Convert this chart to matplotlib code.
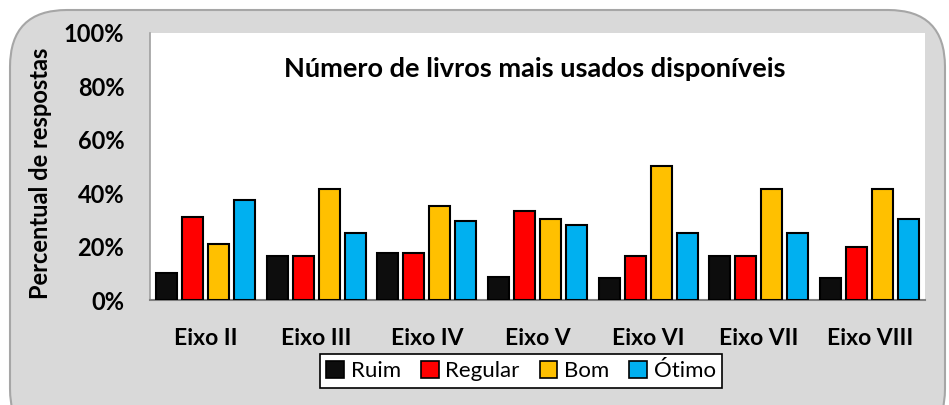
import matplotlib.pyplot as plt
import numpy as np
from matplotlib.patches import FancyBboxPatch, Patch
from matplotlib.ticker import FuncFormatter

eixos = ['Eixo II', 'Eixo III', 'Eixo IV', 'Eixo V', 'Eixo VI', 'Eixo VII', 'Eixo VIII']
ruim = [10.0, 16.6, 17.6, 8.5, 8.3, 16.6, 8.1]
regular = [31.2, 16.6, 17.6, 33.3, 16.6, 16.6, 20.0]
bom = [21.1, 41.6, 35.2, 30.3, 50.2, 41.6, 41.6]
otimo = [37.5, 25.0, 29.5, 28.0, 25.0, 25.0, 30.3]

series = [('Ruim', ruim, '#0d0d0d'),
          ('Regular', regular, '#ff0000'),
          ('Bom', bom, '#ffc000'),
          ('Ótimo', otimo, '#00b0f0')]

plt.rcParams['font.family'] = ['Lato', 'DejaVu Sans']

fig = plt.figure(figsize=(9.49, 4.05), dpi=100)

# grey rounded frame behind the chart
frame = FancyBboxPatch((10 / 949, -0.1), 935 / 949, 1.1 - 10 / 405,
                       boxstyle='round,pad=0,rounding_size=0.06',
                       transform=fig.transFigure, facecolor='#d9d9d9',
                       edgecolor='#a6a6a6', linewidth=1.5, zorder=-5,
                       mutation_aspect=949 / 405)
fig.patches.append(frame)

ax = fig.add_axes([150 / 949, 1 - 300 / 405, 775 / 949, 267 / 405])
ax.set_facecolor('white')

x = np.arange(len(eixos))
slot = 0.235
w = 0.19
for i, (name, vals, col) in enumerate(series):
    ax.bar(x + (i - 1.5) * slot, vals, width=w, color=col, edgecolor='black',
           linewidth=1.5, label=name, zorder=3)

ax.set_xlim(-0.5, len(eixos) - 0.5)
ax.set_ylim(0, 100)
ax.set_yticks(range(0, 101, 20))
ax.yaxis.set_major_formatter(FuncFormatter(lambda v, p: f'{int(v)}%'))
ax.set_xticks(x)
ax.set_xticklabels(eixos)
ax.tick_params(axis='both', length=0)
ax.tick_params(axis='y', pad=18.5, labelsize=17)
ax.tick_params(axis='x', pad=20, labelsize=16.5)
for lab in ax.get_xticklabels() + ax.get_yticklabels():
    lab.set_fontweight('bold')

for s in ['top', 'right']:
    ax.spines[s].set_visible(False)
ax.spines['left'].set_color('#a0a0a0')
ax.spines['bottom'].set_color('#808080')
ax.spines['left'].set_linewidth(1.2)
ax.spines['bottom'].set_linewidth(1.5)

ax.set_ylabel('Percentual de respostas', fontsize=17, fontweight='bold')
ax.yaxis.set_label_coords(-0.126, 0.476)
ax.text(0.497, 0.865, 'Número de livros mais usados disponíveis', transform=ax.transAxes,
        ha='center', va='center', fontsize=19.5, fontweight='bold')

handles = [Patch(facecolor=c, edgecolor='black', linewidth=1.2, label=n) for n, _, c in series]
leg = fig.legend(handles=handles, loc='center', bbox_to_anchor=(521 / 949, 1 - 371 / 405),
                 ncol=4, fontsize=16, frameon=True, fancybox=False, framealpha=1,
                 handlelength=0.8, handleheight=0.8, handletextpad=0.3, columnspacing=0.9,
                 borderpad=0.3, borderaxespad=0)
leg.get_frame().set_edgecolor('black')
leg.get_frame().set_linewidth(1.2)

fig.savefig('out.png', dpi=100)
